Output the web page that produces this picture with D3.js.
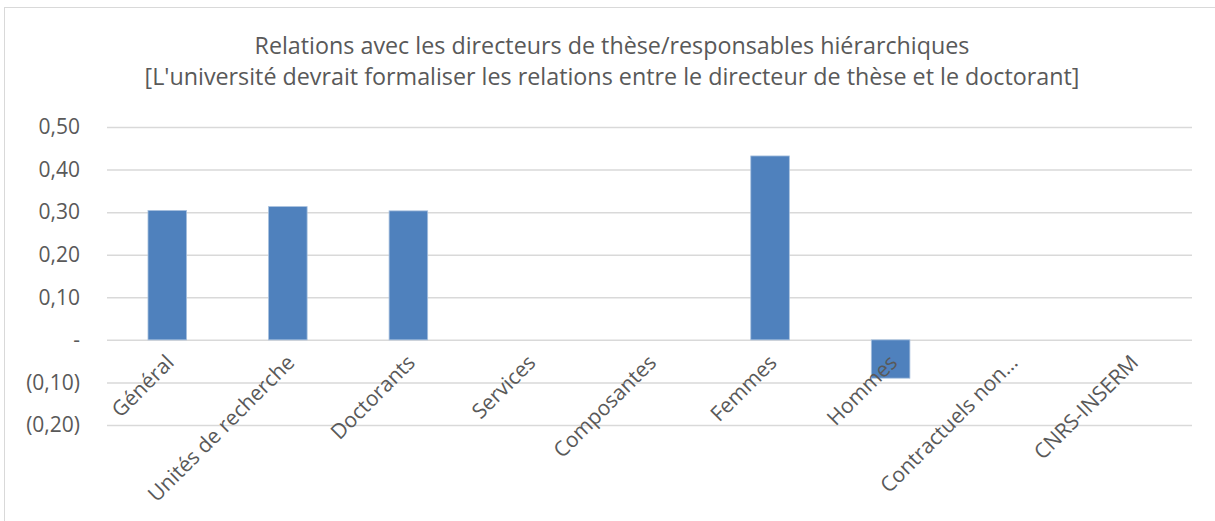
<!DOCTYPE html>
<html>
<head>
<meta charset="utf-8">
<script src="https://cdn.jsdelivr.net/npm/d3@7"></script>
<style>
  body { margin: 0; background: #fff; }
  svg { display: block; font-family: 'Open Sans', sans-serif; }
</style>
</head>
<body>
<div id="chart"></div>
<script>
const titleLines = [
  'Relations avec les directeurs de thèse/responsables hiérarchiques',
  "[L'université devrait formaliser les relations entre le directeur de thèse et le doctorant]"
];
const categories = ['Général', 'Unités de recherche', 'Doctorants', 'Services', 'Composantes',
  'Femmes', 'Hommes', 'Contractuels non…', 'CNRS-INSERM'];
const values = [0.304, 0.313, 0.303, 0, 0, 0.432, -0.09, 0, 0];
const yTicks = [0.5, 0.4, 0.3, 0.2, 0.1, 0, -0.1, -0.2];

const width = 1215;
const height = 521;
const margin = { top: 127, right: 23, bottom: 96, left: 107 };

const svg = d3.select('#chart')
  .append('svg')
  .attr('width', width)
  .attr('height', height);

// outer chart frame (only left/top edges are visible in the crop)
svg.append('rect')
  .attr('x', 4.5).attr('y', 7.5)
  .attr('width', width + 20).attr('height', height + 20)
  .attr('fill', 'none')
  .attr('stroke', '#d9d9d9');

const x = d3.scaleBand()
  .domain(categories)
  .range([margin.left, width - margin.right])
  .padding(0);

const y = d3.scaleLinear()
  .domain([-0.2, 0.5])
  .range([height - margin.bottom, margin.top]);

const fmt = (d) => {
  if (Math.abs(d) < 1e-9) return '-';
  const s = d3.format('.2f')(Math.abs(d)).replace('.', ',');
  return d < 0 ? '(' + s + ')' : s;
};

// gridlines
const grid = svg.append('g')
  .attr('transform', `translate(${margin.left},0)`)
  .call(d3.axisLeft(y).tickValues(yTicks).tickFormat('').tickSize(-(width - margin.left - margin.right)));
grid.select('.domain').remove();
grid.selectAll('line').attr('stroke', '#d9d9d9').attr('stroke-width', 1.5);

// y axis labels
const yAxis = svg.append('g')
  .attr('transform', `translate(80,0)`)
  .call(d3.axisLeft(y).tickValues(yTicks).tickFormat(fmt).tickSize(0).tickPadding(0));
yAxis.select('.domain').remove();
yAxis.selectAll('text')
  .attr('fill', '#595959')
  .style('font-size', '21px')
  .style('font-family', "'Open Sans', sans-serif");

// bars
const barW = x.bandwidth() * 0.32;
svg.append('g')
  .selectAll('rect')
  .data(values.map((v, i) => ({ cat: categories[i], v })).filter((d) => d.v !== 0))
  .join('rect')
  .attr('x', (d) => x(d.cat) + (x.bandwidth() - barW) / 2)
  .attr('y', (d) => y(Math.max(0, d.v)))
  .attr('width', barW)
  .attr('height', (d) => Math.abs(y(d.v) - y(0)))
  .attr('fill', '#4f81bd')
  .attr('stroke', '#a7c0de')
  .attr('stroke-width', 0.8);

// category labels, rotated
svg.append('g')
  .selectAll('text')
  .data(categories)
  .join('text')
  .attr('transform', (d) => `translate(${x(d) + x.bandwidth() / 2 + 8},${y(0) + 24}) rotate(-45)`)
  .attr('text-anchor', 'end')
  .attr('fill', '#595959')
  .style('font-size', '21px')
  .text((d) => d);

// title
svg.append('g')
  .selectAll('text')
  .data(titleLines)
  .join('text')
  .attr('x', 612)
  .attr('y', (d, i) => 54 + i * 31)
  .attr('text-anchor', 'middle')
  .attr('fill', '#595959')
  .style('font-size', '23.3px')
  .text((d) => d);
</script>
</body>
</html>
